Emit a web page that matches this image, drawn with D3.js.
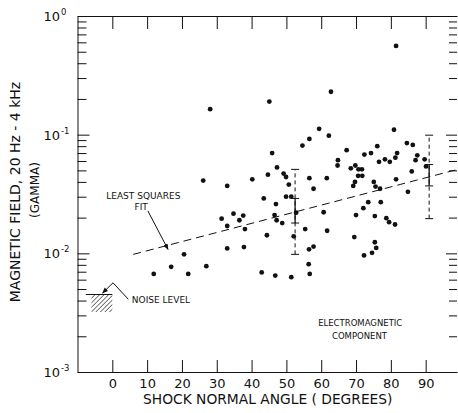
<!DOCTYPE html>
<html>
<head>
<meta charset="utf-8">
<script src="https://cdn.jsdelivr.net/npm/d3@7"></script>
<style>
  body { margin: 0; background: #fff; }
  #chart text { font-family: "DejaVu Sans", sans-serif; fill: #111; }
  .axis path, .axis line { stroke: #111; stroke-width: 1; }
</style>
</head>
<body>
<div id="chart"></div>
<script>
// data
const angle = [28.1, 45.1, 54.6, 56.6, 45.9, 47.3, 81.5, 62.8, 59.4, 62.2,
  80.9, 67.3, 64.8, 64.7, 68.5, 69.8, 70.7, 71.7, 72.4, 74.3,
  76.1, 76.6, 78.3, 79.7, 81.3, 81.8, 84.6, 86.3, 87.6, 87.1,
  89.7, 90.1, 26.1, 33.0, 40.2, 44.7, 49.2, 49.9, 50.7, 49.9,
  51.4, 43.5, 47.0, 52.8, 46.6, 47.2, 48.8, 31.4, 34.8, 36.5,
  37.6, 33.0, 38.1, 44.4, 52.1, 33.0, 37.8, 20.6, 16.9, 11.9,
  21.8, 27.0, 42.9, 46.8, 51.4, 56.6, 61.6, 57.8, 70.6, 71.8,
  69.7, 69.2, 75.1, 75.6, 76.9, 81.5, 84.9, 86.0, 73.5, 72.1,
  77.1, 70.0, 75.4, 78.7, 79.5, 81.2, 60.7, 55.4, 61.7, 69.5,
  75.4, 75.8, 74.6, 72.3, 56.5, 57.8, 56.4, 56.7];
const field = [0.164, 0.19, 0.081, 0.092, 0.070, 0.053, 0.56, 0.23, 0.112, 0.098,
  0.110, 0.074, 0.061, 0.055, 0.052, 0.055, 0.051, 0.051, 0.068, 0.070,
  0.080, 0.059, 0.062, 0.059, 0.064, 0.070, 0.085, 0.082, 0.067, 0.061,
  0.062, 0.054, 0.041, 0.037, 0.042, 0.046, 0.047, 0.044, 0.038, 0.030,
  0.030, 0.029, 0.026, 0.022, 0.021, 0.019, 0.018, 0.0196, 0.0216, 0.019,
  0.0208, 0.017, 0.016, 0.0142, 0.0139, 0.011, 0.0113, 0.0098, 0.0077, 0.0067,
  0.0067, 0.0078, 0.0069, 0.0065, 0.0063, 0.043, 0.043, 0.035, 0.045, 0.045,
  0.040, 0.037, 0.040, 0.0365, 0.035, 0.042, 0.033, 0.049, 0.027, 0.024,
  0.027, 0.021, 0.0206, 0.0198, 0.0183, 0.0175, 0.0222, 0.016, 0.0155, 0.0137,
  0.0124, 0.0111, 0.0101, 0.0096, 0.0108, 0.0114, 0.0081, 0.0067];

// least squares fit, end points
const fitAngle = [6, 99];
const fitField = [0.0098, 0.0508];

// error bars: outer (dashed) and inner (solid) ranges
const barAngle = [52.5, 91];
const barOuterLow = [0.0098, 0.0196];
const barOuterHigh = [0.051, 0.099];
const barInnerLow = [0.018, 0.037];
const barInnerHigh = [0.029, 0.056];

// noise level box
const noiseAngle = [-6, 0];
const noiseField = [0.0032, 0.0045];

const xTicks = [0, 10, 20, 30, 40, 50, 60, 70, 80, 90];
const yMajor = [1e-3, 1e-2, 1e-1, 1];
const yExp = ["-3", "-2", "-1", "0"];

////////////////////////////////////////////////////////////////////
const width = 458;
const height = 413;
const margin = { top: 16, right: 1, bottom: 41, left: 77.5 };

const svg = d3.select("#chart").append("svg")
  .attr("width", width)
  .attr("height", height);

const xScale = d3.scaleLinear().domain([-10, 99]).range([margin.left, width - margin.right]);
const yScale = d3.scaleLog().domain([1e-3, 1]).range([height - margin.bottom, margin.top]);

// every log minor value
const yMinor = [];
yMajor.slice(0, 3).forEach((m) => {
  for (let k = 1; k < 10; k++) yMinor.push(m * k);
});
yMinor.push(1);

// axes
const xAxis = d3.axisBottom(xScale).tickValues(xTicks).tickSizeInner(-12).tickSizeOuter(0).tickPadding(7);
const xAxisTop = d3.axisTop(xScale).tickValues(xTicks).tickSizeInner(-13).tickSizeOuter(0).tickFormat("");
const yAxis = d3.axisLeft(yScale).tickValues(yMinor).tickSizeInner(-9).tickSizeOuter(0).tickFormat("");
const yAxisRight = d3.axisRight(yScale).tickValues(yMinor).tickSizeInner(-8).tickSizeOuter(0).tickFormat("");

const gx = svg.append("g").attr("class", "axis")
  .attr("transform", `translate(0, ${height - margin.bottom})`)
  .call(xAxis);
gx.selectAll("text").attr("font-size", 13);

svg.append("g").attr("class", "axis")
  .attr("transform", `translate(0, ${margin.top})`)
  .call(xAxisTop);

const gy = svg.append("g").attr("class", "axis")
  .attr("transform", `translate(${margin.left}, 0)`)
  .call(yAxis);
gy.selectAll(".tick line").filter((d) => yMajor.includes(d)).attr("x2", 12);

const gyr = svg.append("g").attr("class", "axis")
  .attr("transform", `translate(${width - 1}, 0)`)
  .call(yAxisRight);
gyr.select(".domain").remove();
gyr.selectAll(".tick line").filter((d) => yMajor.includes(d)).attr("x2", -11);

// y tick labels 10^n
svg.append("g").selectAll("text").data(yMajor).join("text")
  .attr("x", 60)
  .attr("y", (d) => yScale(d) + 5)
  .attr("text-anchor", "end")
  .attr("font-size", 13)
  .text("10");
svg.append("g").selectAll("text").data(yMajor).join("text")
  .attr("x", 61)
  .attr("y", (d) => yScale(d) - 1)
  .attr("font-size", 8.5)
  .text((d, i) => yExp[i]);

// axis titles
svg.append("text")
  .attr("x", (margin.left + width) / 2)
  .attr("y", 404)
  .attr("text-anchor", "middle")
  .attr("font-size", 13.8)
  .text("SHOCK NORMAL ANGLE ( DEGREES)");

svg.append("text")
  .attr("transform", "translate(20, 192) rotate(-90)")
  .attr("text-anchor", "middle")
  .attr("font-size", 14)
  .text("MAGNETIC FIELD, 20 Hz - 4 kHz");

svg.append("text")
  .attr("transform", "translate(39, 190) rotate(-90)")
  .attr("text-anchor", "middle")
  .attr("font-size", 12)
  .text("(GAMMA)");

// arrow marker
svg.append("defs").append("marker")
  .attr("id", "arrow")
  .attr("viewBox", "0 0 10 10")
  .attr("refX", 9).attr("refY", 5)
  .attr("markerWidth", 6).attr("markerHeight", 6)
  .attr("orient", "auto")
  .append("path")
  .attr("d", "M0,1 L10,5 L0,9 Z")
  .attr("fill", "#111");

// hatch pattern
const pat = svg.select("defs").append("pattern")
  .attr("id", "hatch")
  .attr("width", 3.2).attr("height", 3.2)
  .attr("patternUnits", "userSpaceOnUse")
  .attr("patternTransform", "rotate(45)");
pat.append("line")
  .attr("x1", 0).attr("y1", 0).attr("x2", 0).attr("y2", 3.2)
  .attr("stroke", "#111").attr("stroke-width", 1.1);

// least squares line
const line = d3.line()
  .x((d) => xScale(d[0]))
  .y((d) => yScale(d[1]));

svg.append("path")
  .datum(fitAngle.map((a, i) => [a, fitField[i]]))
  .attr("d", line)
  .attr("fill", "none")
  .attr("stroke", "#111")
  .attr("stroke-width", 1)
  .attr("stroke-dasharray", "8,5");

// error bars
const bars = svg.append("g").selectAll("g").data(barAngle).join("g");
bars.append("line")
  .attr("x1", (d) => xScale(d)).attr("x2", (d) => xScale(d))
  .attr("y1", (d, i) => yScale(barOuterLow[i])).attr("y2", (d, i) => yScale(barOuterHigh[i]))
  .attr("stroke", "#111").attr("stroke-dasharray", "4,3");
bars.append("line")
  .attr("x1", (d) => xScale(d)).attr("x2", (d) => xScale(d))
  .attr("y1", (d, i) => yScale(barInnerLow[i])).attr("y2", (d, i) => yScale(barInnerHigh[i]))
  .attr("stroke", "#111").attr("stroke-width", 1.3);
[barOuterLow, barOuterHigh, barInnerLow, barInnerHigh].forEach((arr) => {
  bars.append("line")
    .attr("x1", (d) => xScale(d) - 4).attr("x2", (d) => xScale(d) + 4)
    .attr("y1", (d, i) => yScale(arr[i])).attr("y2", (d, i) => yScale(arr[i]))
    .attr("stroke", "#111");
});

// points
svg.append("g").selectAll("circle")
  .data(angle)
  .join("circle")
  .attr("cx", (d) => xScale(d))
  .attr("cy", (d, i) => yScale(field[i]))
  .attr("r", 2.4)
  .attr("fill", "#111");

// noise level box
svg.append("rect")
  .attr("x", xScale(noiseAngle[0]))
  .attr("y", yScale(noiseField[1]))
  .attr("width", xScale(noiseAngle[1]) - xScale(noiseAngle[0]))
  .attr("height", yScale(noiseField[0]) - yScale(noiseField[1]))
  .attr("fill", "url(#hatch)");
svg.append("line")
  .attr("x1", xScale(-7.6)).attr("x2", xScale(0))
  .attr("y1", yScale(noiseField[1])).attr("y2", yScale(noiseField[1]))
  .attr("stroke", "#111");

// annotations
svg.append("path")
  .datum([[4.6, 0.0041], [0.2, 0.00565], [-2.8, 0.00462]])
  .attr("d", line)
  .attr("fill", "none")
  .attr("stroke", "#111")
  .attr("marker-end", "url(#arrow)");

svg.append("text")
  .attr("x", xScale(5.6)).attr("y", yScale(0.0041) + 3.5)
  .attr("font-size", 9)
  .text("NOISE LEVEL");

svg.append("path")
  .datum([[10.2, 0.0228], [16, 0.0108]])
  .attr("d", line)
  .attr("fill", "none")
  .attr("stroke", "#111")
  .attr("marker-end", "url(#arrow)");

svg.append("text")
  .attr("x", xScale(8.9)).attr("y", yScale(0.0307) + 3.5)
  .attr("text-anchor", "middle")
  .attr("font-size", 9)
  .text("LEAST SQUARES");
svg.append("text")
  .attr("x", xScale(8.3)).attr("y", yScale(0.0247) + 3.5)
  .attr("text-anchor", "middle")
  .attr("font-size", 9)
  .text("FIT");

svg.append("text")
  .attr("x", xScale(71.2)).attr("y", yScale(0.0026) + 3.5)
  .attr("text-anchor", "middle")
  .attr("font-size", 8.5)
  .text("ELECTROMAGNETIC");
svg.append("text")
  .attr("x", xScale(71)).attr("y", yScale(0.00205) + 3.5)
  .attr("text-anchor", "middle")
  .attr("font-size", 8.5)
  .text("COMPONENT");
</script>
</body>
</html>
